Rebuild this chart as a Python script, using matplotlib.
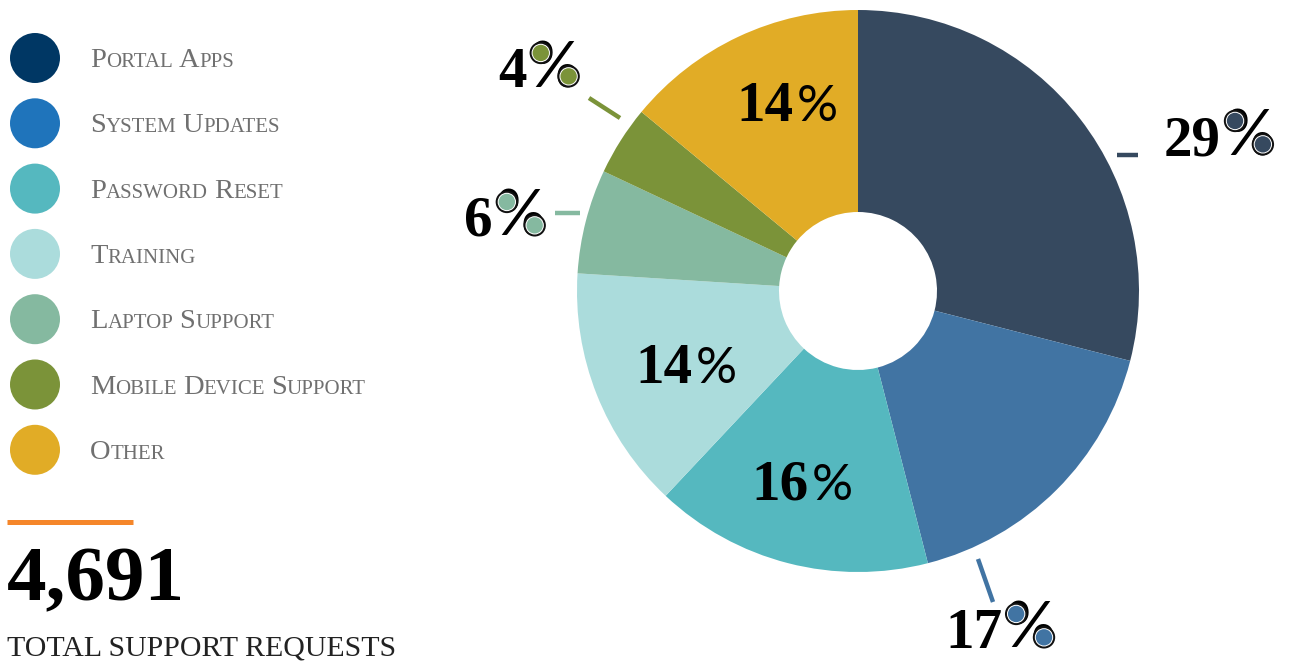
import matplotlib
matplotlib.use("Agg")
import matplotlib.pyplot as plt
from matplotlib.patches import Circle
from matplotlib.textpath import TextPath
from matplotlib.font_manager import FontProperties
import numpy as np

# ---------------- data ----------------
categories = ["Portal Apps", "System Updates", "Password Reset", "Training",
              "Laptop Support", "Mobile Device Support", "Other"]
percents = [29, 17, 16, 14, 6, 4, 14]
slice_colors = ["#36495f", "#4174a3", "#55b8bf", "#abdcdc", "#85b9a0", "#7b9339", "#e1ac26"]
legend_colors = ["#003764", "#1f74bb", "#55b8bf", "#abdcdc", "#85b9a0", "#7b9339", "#e1ac26"]
total_requests = "4,691"
total_caption = "TOTAL SUPPORT REQUESTS"

# ---------------- layout (pixels, y measured from top) ----------------
W, H = 1289, 661
CX, CY = 858, 291
R_OUT, R_IN = 281, 79
# label anchors: (center x, baseline y), leader line or None
label_layout = [
    ((1219, 155), ((1117, 155), (1138, 155))),
    ((1000, 648), ((978, 559), (993, 602))),
    ((802, 500), None),
    ((686, 383), None),
    ((505, 236), ((555, 213), (580, 213))),
    ((539, 87), ((589, 98), (620, 118))),
    ((787, 121), None),
]

SERIF = ["Liberation Serif", "DejaVu Serif"]
PCT_FONT = ["Lato", "DejaVu Sans"]
PCT_WEIGHT = "normal"

fig = plt.figure(figsize=(W / 100, H / 100), dpi=100)
ax = fig.add_axes([0, 0, 1, 1])

def Y(y):
    return H - y

wedges, _ = ax.pie(percents, colors=slice_colors, startangle=90, counterclock=False,
                   center=(CX, Y(CY)), radius=R_OUT,
                   wedgeprops=dict(width=R_OUT - R_IN, edgecolor="none"))
ax.set_xlim(0, W)
ax.set_ylim(0, H)
ax.set_aspect("auto")
ax.axis("off")

renderer = fig.canvas.get_renderer()

def mixed(x, y, parts, ha="left"):
    """parts: list of (string, kwargs, gap_after_px)"""
    texts, widths = [], []
    for s, kw, gap in parts:
        t = ax.text(0, y, s, va="baseline", ha="left", **kw)
        bb = t.get_window_extent(renderer=renderer)
        texts.append(t)
        widths.append(bb.width + gap)
    total = sum(widths)
    cur = x if ha == "left" else x - total / 2
    for t, w in zip(texts, widths):
        t.set_x(cur)
        cur += w
    return texts

def percent_bowls(size_pt):
    """centres (fraction of ink width, px above baseline) and outer radius of the % bowls"""
    em = size_pt * 100 / 72
    tp = TextPath((0, 0), "%", size=em,
                  prop=FontProperties(family=PCT_FONT, weight=PCT_WEIGHT))
    polys = tp.to_polygons()
    xmin = min(p[:, 0].min() for p in polys)
    xmax = max(p[:, 0].max() for p in polys)
    cands = []
    for p in polys:
        x, y = p[:, 0], p[:, 1]
        area = 0.5 * abs(np.dot(x, np.roll(y, 1)) - np.dot(y, np.roll(x, 1)))
        bw, bh = x.max() - x.min(), y.max() - y.min()
        if bw * bh <= 0:
            continue
        if area / (bw * bh) > 0.6:
            cands.append((area, ((x.max() + x.min()) / 2 - xmin) / (xmax - xmin),
                          (y.max() + y.min()) / 2, max(bw, bh) / 2))
    cands.sort()
    holes = cands[:2]
    if len(cands) >= 4:
        r_outer = np.mean([c[3] for c in cands[2:4]])
    else:
        r_outer = np.mean([c[3] for c in holes]) * 1.7
    return [(c[1], c[2]) for c in holes], r_outer

# ---------------- legend ----------------
leg_y0, leg_dy = 58, 65.3
for i, (cat, col) in enumerate(zip(categories, legend_colors)):
    yc = leg_y0 + i * leg_dy
    ax.add_patch(Circle((35, Y(yc)), 25, fc=col, ec="none"))
    parts = []
    words = cat.split()
    for j, w in enumerate(words):
        gap = 6 if j < len(words) - 1 else 0
        parts.append((w[0], dict(fontsize=20.5, color="#707070", family=SERIF), 0))
        parts.append((w[1:].upper(), dict(fontsize=15, color="#707070", family=SERIF), gap))
    mixed(90, Y(yc + 9), parts)

# ---------------- total ----------------
ax.plot([7, 133], [Y(522), Y(522)], color="#f5862a", lw=3.6, solid_capstyle="butt")
ax.text(7, Y(600), total_requests, fontsize=57, fontweight="bold", family=SERIF,
        color="#000000", va="baseline", ha="left")
ax.text(7, Y(655), total_caption, fontsize=21.5, family=SERIF, color="#222222",
        va="baseline", ha="left")

# ---------------- slice labels ----------------
NUM_FS = 41
PCT_IN = 37
PCT_OUT = 45
bowls, r_bowl = percent_bowls(PCT_OUT)
for i, p in enumerate(percents):
    (lx, ly), leader = label_layout[i]
    pct_fs = PCT_IN if leader is None else PCT_OUT
    ts = mixed(lx, Y(ly), [(str(p), dict(fontsize=NUM_FS, fontweight="bold", family=SERIF, color="black"), 3),
                           ("%", dict(fontsize=pct_fs, family=PCT_FONT, fontweight=PCT_WEIGHT,
                                      color="black"), 0)], ha="center")
    if leader is not None:
        a, b = leader
        ax.plot([a[0], b[0]], [Y(a[1]), Y(b[1])], color=slice_colors[i], lw=3.2,
                solid_capstyle="butt")
        bb = ts[1].get_window_extent(renderer=renderer)
        by = Y(ly)
        for fx, hy in bowls:
            c = (bb.x0 + fx * bb.width, by + hy)
            ax.add_patch(Circle(c, r_bowl, fc="#111111", ec="none", zorder=5))
            ax.add_patch(Circle(c, r_bowl - 2.0, fc="white", ec="none", zorder=6))
            ax.add_patch(Circle(c, r_bowl - 3.0, fc=slice_colors[i], ec="none", zorder=7))

fig.savefig("out.png", dpi=100)
